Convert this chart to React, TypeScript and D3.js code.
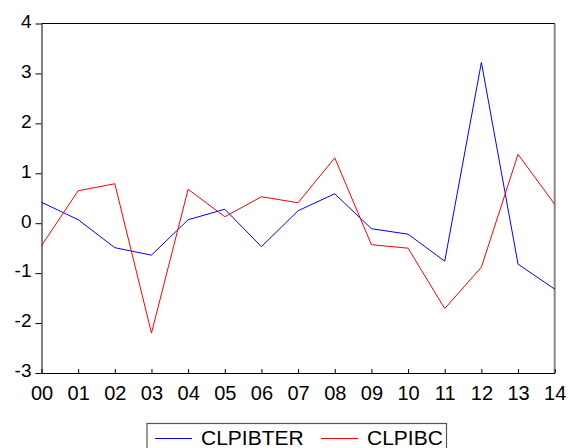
import React, { useEffect, useRef } from 'react';
import * as d3 from 'd3';

const years = ['00', '01', '02', '03', '04', '05', '06', '07', '08', '09', '10', '11', '12', '13', '14'];
const clpibter = [0.42, 0.07, -0.49, -0.64, 0.07, 0.28, -0.47, 0.25, 0.59, -0.11, -0.22, -0.76, 3.22, -0.82, -1.32];
const clpibc = [-0.45, 0.65, 0.79, -2.2, 0.68, 0.13, 0.53, 0.41, 1.31, -0.43, -0.5, -1.71, -0.88, 1.38, 0.38];
const yTicks = [-3, -2, -1, 0, 1, 2, 3, 4];

export default function App() {
    const ref = useRef<SVGSVGElement>(null);

    useEffect(() => {
        if (!ref.current) return;
        const svg = d3.select(ref.current);
        svg.selectAll('*').remove();

        const width = 569;
        const height = 448;
        const margin = { top: 23.5, right: 14.3, bottom: 75, left: 41.5 };
        const font = 'Liberation Sans, Arial, sans-serif';

        const x = d3.scalePoint()
            .domain(years)
            .range([margin.left, width - margin.right]);

        const y = d3.scaleLinear()
            .domain([-3, 4])
            .range([height - margin.bottom, margin.top]);

        svg.attr('width', width).attr('height', height);

        // frame
        svg.append('line')
            .attr('x1', width - margin.right).attr('x2', width - margin.right)
            .attr('y1', margin.top).attr('y2', height - margin.bottom)
            .attr('stroke', '#888').attr('stroke-width', 2);
        svg.append('line')
            .attr('x1', margin.left).attr('x2', width - margin.right)
            .attr('y1', margin.top).attr('y2', margin.top)
            .attr('stroke', '#000');

        // y axis (plain hyphen for negatives)
        const yAxis = svg.append('g')
            .attr('transform', `translate(${margin.left},0)`)
            .call(d3.axisLeft(y).tickValues(yTicks).tickFormat(d => String(d)).tickSize(6).tickPadding(4).tickSizeOuter(0));
        yAxis.select('.domain').attr('stroke', '#000');
        yAxis.selectAll('text')
            .attr('font-family', font).attr('font-size', 19).attr('fill', '#000')
            .attr('dy', '0.2em');

        // x axis, ticks pointing inward
        const xAxis = svg.append('g')
            .attr('transform', `translate(0,${height - margin.bottom})`)
            .call(d3.axisBottom(x).tickSize(-4).tickSizeOuter(0).tickPadding(13));
        xAxis.select('.domain').attr('stroke', '#000');
        xAxis.selectAll('text')
            .attr('font-family', font).attr('font-size', 20).attr('fill', '#000');

        const series = [
            { name: 'CLPIBTER', values: clpibter, color: '#0000ff' },
            { name: 'CLPIBC', values: clpibc, color: '#ff0000' }
        ];

        const line = d3.line<number>()
            .x((_, i) => x(years[i])!)
            .y(d => y(d));

        series.forEach(s => {
            svg.append('path')
                .datum(s.values)
                .attr('d', line)
                .attr('fill', 'none')
                .attr('stroke', s.color)
                .attr('stroke-width', 1);
        });

        // legend
        const lg = svg.append('g');
        lg.append('rect')
            .attr('x', 147).attr('y', 423.5)
            .attr('width', 299.5).attr('height', 40)
            .attr('fill', '#fff').attr('stroke', '#555').attr('stroke-width', 1.2);
        const items = [
            { name: series[0].name, color: series[0].color, x: 155 },
            { name: series[1].name, color: series[1].color, x: 321 }
        ];
        items.forEach(it => {
            lg.append('line')
                .attr('x1', it.x).attr('x2', it.x + 37)
                .attr('y1', 438.5).attr('y2', 438.5)
                .attr('stroke', it.color).attr('stroke-width', 1);
            lg.append('text')
                .attr('x', it.x + 46).attr('y', 445)
                .attr('font-family', font).attr('font-size', 21)
                .attr('fill', '#000')
                .text(it.name);
        });
    }, []);

    return <svg ref={ref} style={{ position: 'absolute', left: 0, top: 0 }} />;
}
